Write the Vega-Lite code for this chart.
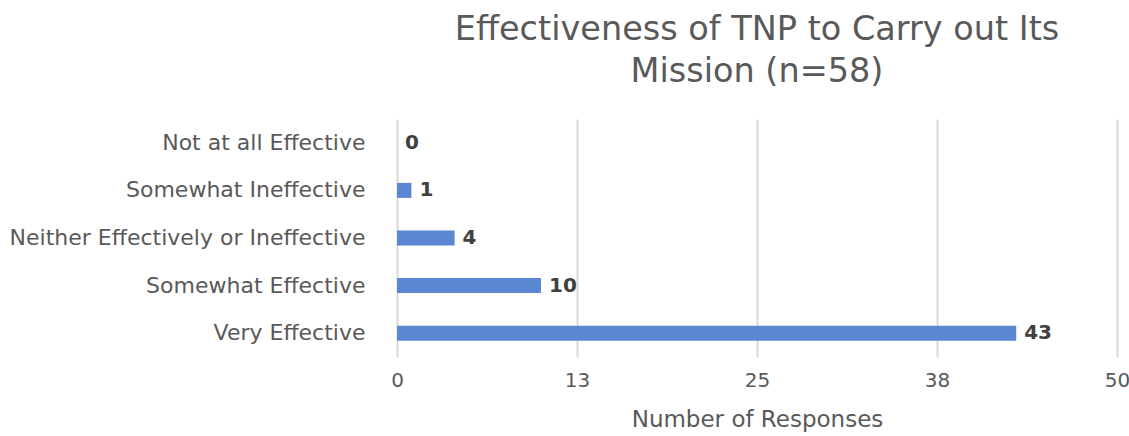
{
  "$schema": "https://vega.github.io/schema/vega-lite/v6.json",
  "width": 720,
  "height": 238,
  "autosize": "none",
  "padding": {"left": 397, "top": 119, "right": 12, "bottom": 79},
  "background": "white",
  "title": {
    "text": ["Effectiveness of TNP to Carry out Its", "Mission (n=58)"],
    "font": "DejaVu Sans",
    "fontSize": 33.5,
    "fontWeight": "normal",
    "color": "#595959",
    "anchor": "middle",
    "lineHeight": 42,
    "offset": 30
  },
  "data": {
    "values": [
      {"category": "Not at all Effective", "count": 0},
      {"category": "Somewhat Ineffective", "count": 1},
      {"category": "Neither Effectively or Ineffective", "count": 4},
      {"category": "Somewhat Effective", "count": 10},
      {"category": "Very Effective", "count": 43}
    ]
  },
  "encoding": {
    "y": {
      "field": "category",
      "type": "nominal",
      "sort": null,
      "title": null,
      "axis": {
        "domain": false,
        "ticks": false,
        "grid": false,
        "labelFont": "DejaVu Sans",
        "labelFontSize": 22,
        "labelColor": "#595959",
        "labelPadding": 32,
        "labelLimit": 500
      }
    },
    "x": {
      "field": "count",
      "type": "quantitative",
      "scale": {"domain": [0, 50], "nice": false},
      "title": "Number of Responses",
      "axis": {
        "values": [0, 12.5, 25, 37.5, 50],
        "labelExpr": "format(round(datum.value), 'd')",
        "labelFlush": false,
        "domain": false,
        "ticks": false,
        "grid": true,
        "gridColor": "#d9d9d9",
        "gridWidth": 2,
        "labelFont": "DejaVu Sans",
        "labelFontSize": 20,
        "labelColor": "#595959",
        "labelPadding": 13,
        "titleFont": "DejaVu Sans",
        "titleFontSize": 23,
        "titleFontWeight": "normal",
        "titleColor": "#595959",
        "titlePadding": 18
      }
    }
  },
  "layer": [
    {
      "mark": {"type": "bar", "color": "#5b87d2", "size": 15}
    },
    {
      "mark": {
        "type": "text",
        "align": "left",
        "dx": 8,
        "font": "DejaVu Sans",
        "fontSize": 20,
        "fontWeight": "bold",
        "color": "#404040"
      },
      "encoding": {"text": {"field": "count", "type": "quantitative"}}
    }
  ],
  "config": {"view": {"stroke": null}}
}
